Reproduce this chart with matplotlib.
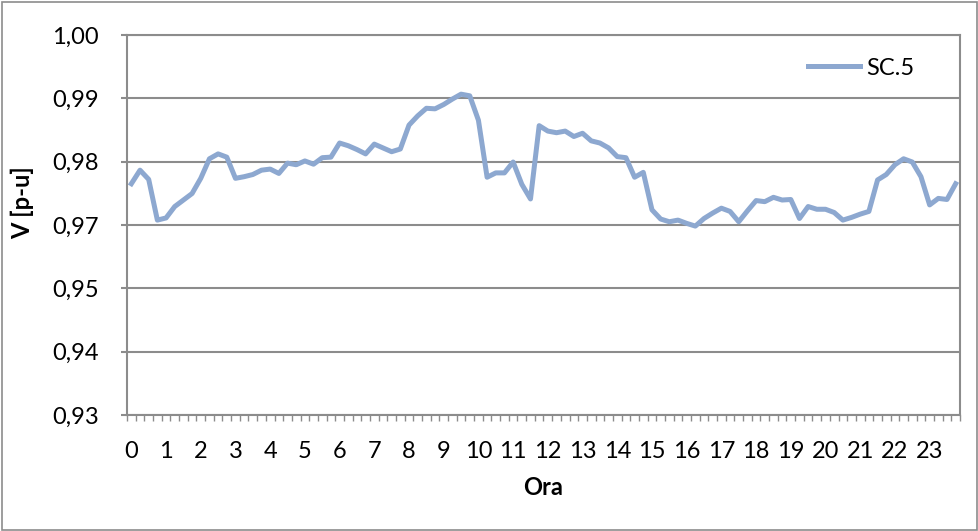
import numpy as np
import matplotlib
matplotlib.use("Agg")
import matplotlib.pyplot as plt
from matplotlib.patches import Rectangle

plt.rcParams['font.family'] = ['Lato', 'DejaVu Sans']

# tensione SC.5, un valore ogni 15 minuti (96 punti)
tensione = [
    0.9726, 0.9751, 0.9734, 0.9659, 0.9663, 0.9684, 0.9696, 0.9708,
    0.9736, 0.9772, 0.9781, 0.9775, 0.9736, 0.9739, 0.9743, 0.9751,
    0.9753, 0.9745, 0.9764, 0.9761, 0.9768, 0.9762, 0.9774, 0.9775,
    0.9801, 0.9796, 0.9789, 0.9781, 0.9799, 0.9792, 0.9785, 0.9790,
    0.9834, 0.9851, 0.9865, 0.9864, 0.9872, 0.9882, 0.9891, 0.9888,
    0.9843, 0.9738, 0.9746, 0.9746, 0.9766, 0.9725, 0.9698, 0.9833,
    0.9823, 0.9820, 0.9823, 0.9813, 0.9819, 0.9805, 0.9801, 0.9792,
    0.9776, 0.9774, 0.9738, 0.9747, 0.9678, 0.9661, 0.9656, 0.9659,
    0.9653, 0.9648, 0.9662, 0.9672, 0.9681, 0.9675, 0.9656, 0.9676,
    0.9695, 0.9693, 0.9701, 0.9696, 0.9697, 0.9662, 0.9684, 0.9679,
    0.9679, 0.9673, 0.9659, 0.9664, 0.9670, 0.9675, 0.9733, 0.9743,
    0.9761, 0.9772, 0.9766, 0.9739, 0.9687, 0.9699, 0.9697, 0.9726,
]
ore = list(range(24))
etichette_y = ["0,93", "0,94", "0,95", "0,97", "0,98", "0,99", "1,00"]

grigio = "#8c8c8c"
colore = "#8da8d0"
fs = 17

fig = plt.figure(figsize=(9.79, 5.31), dpi=100)
ax = fig.add_axes([127/979, 116/531, 833/979, 380/531])

x = np.arange(len(tensione))
ax.plot(x, tensione, color=colore, lw=3.6, solid_joinstyle='round', label="SC.5")

ax.set_xlim(-0.5, len(tensione) - 0.5)
ax.set_ylim(0.93, 1.00)

# asse y: 7 linee equidistanti (come Excel)
ax.set_yticks(np.linspace(0.93, 1.00, 7))
ax.set_yticklabels(etichette_y)
ax.yaxis.grid(True, color=grigio, lw=1.5)
ax.set_axisbelow(True)

# asse x: etichette ogni ora, tacche ogni quarto d'ora
ax.set_xticks(np.arange(0, len(tensione), 4))
ax.set_xticklabels([str(h) for h in ore])
ax.set_xticks(np.arange(-0.5, len(tensione)), minor=True)
ax.tick_params(axis='x', which='major', length=0, pad=19, labelsize=fs)
ax.tick_params(axis='x', which='minor', length=4.5, width=1, color=grigio, direction='out')
ax.tick_params(axis='y', which='major', length=4.5, width=1.5, color=grigio, pad=16, labelsize=fs)

for s in ax.spines.values():
    s.set_color(grigio)
    s.set_linewidth(1.5)

ax.set_xlabel("Ora", fontsize=fs, fontweight='bold', labelpad=10)
ax.set_ylabel("V [p-u]", fontsize=fs, fontweight='bold')
ax.yaxis.set_label_coords(-0.111, 0.56)

ax.legend(loc='center left', bbox_to_anchor=(0.8175, 0.913), frameon=False,
          fontsize=fs, handlelength=2.2, handletextpad=0.25, borderpad=0, borderaxespad=0)

# bordo del grafico
fig.patches.append(Rectangle((0.002, 0.002), 0.996, 0.994, transform=fig.transFigure,
                             fill=False, edgecolor=grigio, lw=1.2))

fig.savefig("out.png", dpi=100)
